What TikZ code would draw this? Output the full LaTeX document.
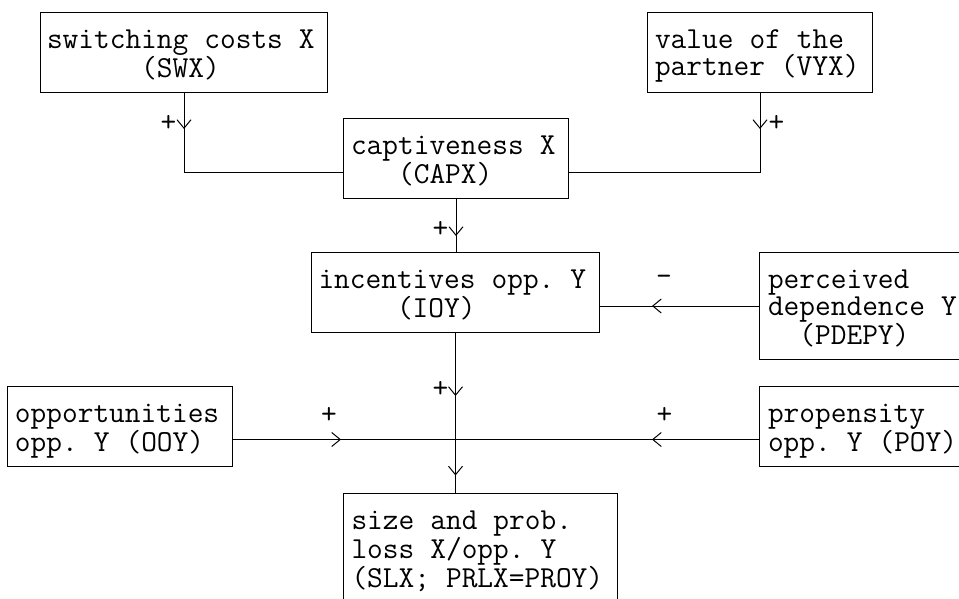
\documentclass[tikz,border=0pt]{standalone}
\usepackage{fontspec}
\usetikzlibrary{arrows.meta,decorations.markings,calc}
\newcommand\fixspaces{\frenchspacing\spaceskip=16.0125pt\relax\xspaceskip=16.0125pt\relax}
\begin{document}
\begin{tikzpicture}[x=1pt,y=-1pt,
  every node/.style={font=\ttfamily\fontsize{30.5}{27}\selectfont},
  box/.style={draw, line width=1pt, anchor=north west, inner xsep=0pt, inner ysep=0pt,
    text height=36pt, align=left, execute at begin node=\fixspaces},
  conn/.style={line width=1pt},
  arr/.style={postaction={decorate}, decoration={markings,
    mark=at position #1 with {\arrow[line width=1pt]{Straight Barb[length=8.5pt,width=14pt]}}}},
  sign/.style={inner sep=0pt}
]
\useasboundingbox (0,0) rectangle (959,599);
\clip (0,0) rectangle (959,599);

\node[box, minimum width=287pt, text width=274pt, text depth=44pt] (swx) at (40,12)
  {switching costs X\\\hphantom{000000}(SWX)};
\node[box, minimum width=225pt, text width=210pt, text depth=44pt] (vyx) at (647,12)
  {value of the\\partner (VYX)};
\node[box, minimum width=225pt, text width=210pt, text depth=44pt] (capx) at (343,118)
  {captiveness X\\\hphantom{000}(CAPX)};
\node[box, minimum width=288pt, text width=274pt, text depth=44pt] (ioy) at (311,252)
  {incentives opp. Y\\\hphantom{00000}(IOY)};
\node[box, minimum width=211pt, text width=194pt, text depth=71pt] (pdepy) at (759,252)
  {perceived\\dependence Y\\\hphantom{00}(PDEPY)};
\node[box, minimum width=225pt, text width=210pt, text depth=44pt] (ooy) at (7,386)
  {opportunities\\opp. Y (OOY)};
\node[box, minimum width=211pt, text width=194pt, text depth=44pt] (poy) at (759,386)
  {propensity\\opp. Y (POY)};
\node[box, minimum width=274pt, text width=258pt, text depth=71pt] (slx) at (343,493)
  {size and prob.\\loss X/opp. Y\\(SLX; PRLX=PROY)};

\coordinate (j) at ($(ioy.south |- ooy.east)+(0,13)$);

\draw[conn, arr=36pt] (swx.south) |- ($(capx.west)+(0,14)$);
\draw[conn, arr=36pt] (vyx.south) |- ($(capx.east)+(0,14)$);
\draw[conn, arr=37pt] (capx.south) -- (capx.south |- ioy.north);
\draw[conn, arr=107pt] (pdepy.west) -- (pdepy.west -| ioy.east);
\draw[conn, arr=63pt] (ioy.south) -- (j);
\draw[conn, arr=36pt] (j) -- (j |- slx.north);
\draw[conn, arr=108pt] ($(ooy.east)+(0,13)$) -- (j);
\draw[conn, arr=107pt] ($(poy.west)+(0,13)$) -- (j);

\node[sign] (s1) at ($(swx.south)+(-15.5,30)$) {+};
\node[sign] (s2) at ($(vyx.south)+(16.5,30)$) {+};
\node[sign] (s3) at ($(capx.south)+(-15.5,30)$) {+};
\node[sign] (s4) at ($(pdepy.west)+(-95,-25.5)$) {-};
\node[sign] (s5) at ($(ioy.south)+(-15,56)$) {+};
\node[sign] (s6) at ($(j)+(-126.5,-24)$) {+};
\node[sign] (s7) at ($(j)+(209,-24)$) {+};
\end{tikzpicture}
\end{document}
